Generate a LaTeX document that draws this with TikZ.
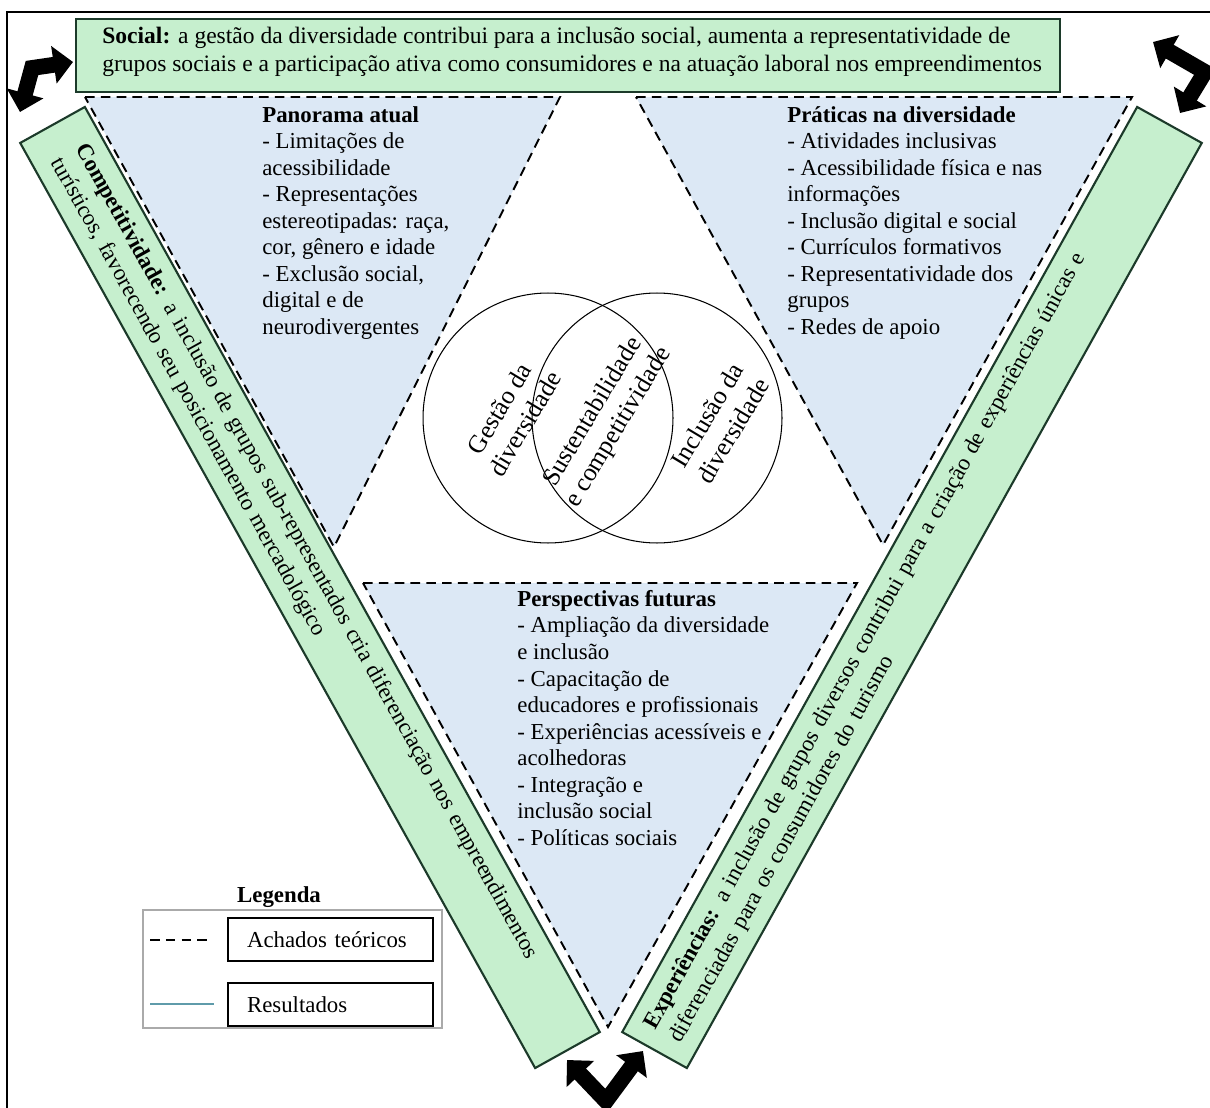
\documentclass[tikz,border=0pt]{standalone}
\usepackage{fontspec}
\setmainfont{Liberation Serif}
\usetikzlibrary{calc,arrows.meta,positioning}
\definecolor{barfill}{RGB}{198,239,206}
\definecolor{baredge}{RGB}{28,58,42}
\definecolor{trifill}{RGB}{220,232,245}
\definecolor{resline}{RGB}{95,155,170}
\definecolor{legframe}{RGB}{170,170,170}

\begin{document}
\begin{tikzpicture}[x=0.02cm,y=-0.02cm,
		every node/.style={font=\fontsize{13}{15.1}\selectfont,inner sep=0pt},
		greenbar/.style={draw=baredge,line width=1.2pt,fill=barfill},
		bartext/.style={font=\fontsize{13}{16.2}\selectfont,align=left,minimum width=21.18cm,minimum height=1.48cm},
		teoria/.style={line width=1.1pt,dash pattern=on 5.5pt off 3.5pt},
		trifield/.style={teoria,fill=trifill},
		listtext/.style={anchor=north west,align=left},
		circtext/.style={rotate=59,align=center,font=\fontsize{14.5}{17}\selectfont},
		legbox/.style={draw,line width=0.8pt,minimum width=4.1cm,minimum height=0.86cm,text width=3.34cm,align=left},
		bentarrow/.style={line width=9pt,line join=miter,{Triangle[width=21pt,length=11pt]}-{Triangle[width=21pt,length=11pt]}}]
		\useasboundingbox (0,0) rectangle (1210,1108);
		\draw[line width=0.8pt] (7,12) rectangle (1225,1125);
		% triangulos
		\draw[trifield] (85,97) -- (560,97) -- (334,547) -- cycle;
		\draw[trifield] (636,97) -- (1132,97) -- (883,545) -- cycle;
		\draw[trifield] (363,583) -- (857,583) -- (608,1027) -- cycle;
		% faixas
		\node[greenbar,anchor=north west,minimum width=19.68cm,minimum height=1.46cm] (social) at (75,18) {};
		\node[anchor=north west,align=left,font=\fontsize{13.4}{16}\selectfont] (socialtxt) at (102,27)
		{\textbf{Social:} a gestão da diversidade contribui para a inclusão social, aumenta a representatividade de\\
			grupos sociais e a participação ativa como consumidores e na atuação laboral nos empreendimentos};
		\node[greenbar,bartext,rotate=-60.9,text width=19.9cm] (compet) at (310,587.5)
		{\textbf{Competitividade:} a inclusão de grupos sub-representados cria diferenciação nos empreendimentos\\
			turísticos, favorecendo seu posicionamento mercadológico};
		\node[greenbar,bartext,rotate=60.9,text width=20.46cm] (exper) at (912,587.5)
		{\textbf{Experiências:} a inclusão de grupos diversos contribui para a criação de experiências únicas e\\
			diferenciadas para os consumidores do turismo};
		% textos
		\node[listtext] (panorama) at (262,106) {\textbf{Panorama atual}\\- Limitações de\\acessibilidade\\- Representações\\
			estereotipadas: raça,\\cor, gênero e idade\\- Exclusão social,\\digital e de\\neurodivergentes};
		\node[listtext] (praticas) at (787,106) {\textbf{Práticas na diversidade}\\- Atividades inclusivas\\- Acessibilidade física e nas\\
			informações\\- Inclusão digital e social\\- Currículos formativos\\- Representatividade dos\\grupos\\- Redes de apoio};
		\node[listtext] (perspect) at (517,590) {\textbf{Perspectivas futuras}\\- Ampliação da diversidade\\e inclusão\\- Capacitação de\\
			educadores e profissionais\\- Experiências acessíveis e\\acolhedoras\\- Integração e\\inclusão social\\- Políticas sociais};
		% circulos
		\coordinate (cgest) at (548,418);
		\coordinate (cincl) at (657,418);
		\draw[line width=0.6pt] (cgest) circle[radius=2.5cm];
		\draw[line width=0.6pt] (cincl) circle[radius=2.5cm];
		\node[circtext] (gestao) at (512,416) {Gestão da\\diversidade};
		\node[circtext] (sustent) at (606,420) {Sustentabilidade\\e competitividade};
		\node[circtext] (inclusao) at (720,423) {Inclusão da\\diversidade};
		% setas
		\coordinate (tl1) at (73,62); \coordinate (tl0) at (32,68); \coordinate (tl2) at (20,112);
		\coordinate (tr1) at (1153,42); \coordinate (tr0) at (1205,72); \coordinate (tr2) at (1180,113);
		\coordinate (bt1) at (567,1060); \coordinate (bt0) at (606,1101); \coordinate (bt2) at (643,1051);
		\foreach \s in {tl,tr,bt}
		\draw[bentarrow] (\s1) -- (\s0) -- (\s2);
		% legenda
		\node[font=\fontsize{13}{15.1}\selectfont\bfseries] (legtitle) at (279,897) {Legenda};
		\draw[legframe,line width=0.6pt] (143,910) rectangle (442,1028);
		\node[legbox] (achados) at (330.5,939.5) {Achados teóricos};
		\node[legbox] (result) at (330.5,1004.5) {Resultados};
		\draw[teoria] (150,940) -- (212,940);
		\draw[resline,line width=0.8pt] (150,1004) -- (214,1004);
	\end{tikzpicture}
\end{document}
